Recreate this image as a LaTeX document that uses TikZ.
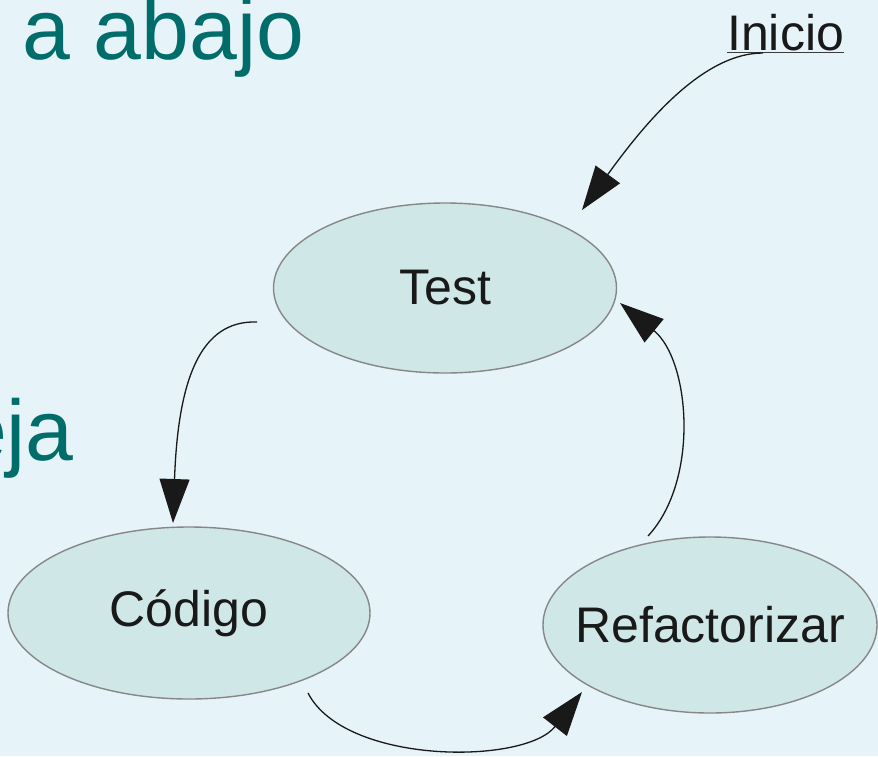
\documentclass[tikz,border=0pt]{standalone}
\usepackage{fontspec}
\setmainfont{Liberation Sans}
\usetikzlibrary{arrows.meta,shapes.geometric}
\definecolor{bgc}{RGB}{230,243,249}
\definecolor{ellfill}{RGB}{207,231,230}
\definecolor{ellline}{RGB}{135,135,135}
\definecolor{teal}{RGB}{0,109,106}
\definecolor{ink}{RGB}{25,25,25}
\begin{document}
\begin{tikzpicture}[x=1pt,y=-1pt,
  stateell/.style={ellipse, draw=ellline, line width=1.4pt, fill=ellfill, inner sep=0pt,
    font=\fontsize{50}{60}\selectfont, text=ink},
  flow/.style={draw=ink, line width=1.3pt, -{Triangle[length=44pt,width=30pt]}},
  bigtext/.style={text=teal, inner sep=0pt, font=\fontsize{86}{100}\selectfont}
]
\fill[bgc] (0,0) rectangle (878,756);
\useasboundingbox (0,0) rectangle (878,756);

\node[bigtext, anchor=base west] (title) at (22,59) {a abajo};
\node[bigtext, anchor=base east] (eja) at (74,460) {eja};

\node[stateell, minimum width=343pt, minimum height=170pt] (test) at (445,288) {\makebox[0pt]{Test}};
\node[stateell, minimum width=362pt, minimum height=172pt] (cod) at (189,613) {\makebox[0pt]{Código}};
\node[stateell, minimum width=334pt, minimum height=176pt] (ref) at (710,625) {\makebox[0pt]{Refactorizar}};

\node[inner sep=0pt, anchor=base west, text=ink, font=\fontsize{50}{60}\selectfont] (ini) at (727,50) {Inicio};
\draw[ink!85, line width=1.1pt] ([yshift=-2.5pt]ini.base west) -- ([yshift=-2.5pt]ini.base east);

\coordinate (s1) at (763,53);
\coordinate (e1) at (582,210);
\coordinate (s2) at (257,322);
\coordinate (e2) at (173,523);
\coordinate (s3) at (308,693);
\coordinate (e3) at (582,692);
\coordinate (s4) at (648,536);
\coordinate (e4) at (620,303);

\draw[flow] (s1) .. controls (700,53) and (640,130) .. (e1);
\draw[flow] (s2) .. controls (200,320) and (178,380) .. (e2);
\draw[flow] (s3) .. controls (345,765) and (525,765) .. (e3);
\draw[flow] (s4) .. controls (700,480) and (690,360) .. (e4);
\end{tikzpicture}
\end{document}
